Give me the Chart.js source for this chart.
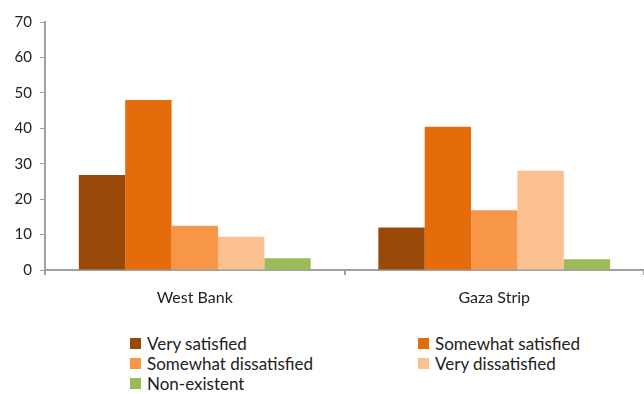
<!DOCTYPE html>
<html>
<head>
<meta charset="utf-8">
<script src="https://cdn.jsdelivr.net/npm/chart.js@4"></script>
<style>
  body { margin: 0; background: #fff; font-family: Lato, "Open Sans", sans-serif; }
  #wrap { position: relative; width: 644px; height: 394px; }
  #chartBox { position: absolute; left: 0; top: 0; width: 644px; height: 320px; }
  #legend { position: absolute; left: 130px; top: 333px; width: 510px; display: grid;
            grid-template-columns: 288px 210px; font-size: 17px; color: #222; }
  .item { display: flex; align-items: center; height: 20px; }
  .sw { width: 11px; height: 11px; margin-right: 6px; }
</style>
</head>
<body>
<div id="wrap">
  <div id="chartBox"><canvas id="chart"></canvas></div>
  <div id="legend"></div>
</div>
<script>
const regions = ["West Bank", "Gaza Strip"];
const seriesNames = ["Very satisfied", "Somewhat satisfied", "Somewhat dissatisfied", "Very dissatisfied", "Non-existent"];
const verySatisfied = [26.8, 12.0];
const somewhatSatisfied = [48.0, 40.4];
const somewhatDissatisfied = [12.5, 16.9];
const veryDissatisfied = [9.4, 28.0];
const nonExistent = [3.3, 3.0];
const colors = ["#984807", "#E46C0A", "#F79646", "#FAC090", "#9BBB59"];

const allValues = [verySatisfied, somewhatSatisfied, somewhatDissatisfied, veryDissatisfied, nonExistent];

const datasets = allValues.map((vals, i) => ({
  label: seriesNames[i],
  data: vals,
  backgroundColor: colors[i],
  borderWidth: 0,
  categoryPercentage: 0.774,
  barPercentage: 1
}));

const ctx = document.getElementById("chart").getContext("2d");
new Chart(ctx, {
  type: "bar",
  data: { labels: regions, datasets },
  options: {
    responsive: true,
    maintainAspectRatio: false,
    animation: false,
    layout: { padding: { top: 22, right: 0, left: 0, bottom: 0 } },
    plugins: { legend: { display: false }, tooltip: { enabled: false } },
    scales: {
      x: {
        offset: true,
        grid: { display: true, drawOnChartArea: false, offset: true, color: "#a0a0a0", tickLength: 5, lineWidth: 2 },
        border: { color: "#a0a0a0", width: 2 },
        ticks: { color: "#222", font: { family: "Lato", size: 16 }, padding: 13 },
        afterFit: (scale) => { scale.height = 50; }
      },
      y: {
        min: 0,
        max: 70,
        ticks: { stepSize: 10, color: "#222", font: { family: "Lato", size: 15 }, padding: 8 },
        grid: { display: true, drawOnChartArea: false, color: "#a0a0a0", tickLength: 5, lineWidth: 1 },
        border: { color: "#a0a0a0", width: 2 },
        afterFit: (scale) => { scale.width = 45; }
      }
    }
  }
});

const legend = document.getElementById("legend");
seriesNames.forEach((name, i) => {
  const item = document.createElement("div");
  item.className = "item";
  item.innerHTML = '<span class="sw" style="background:' + colors[i] + '"></span><span>' + name + '</span>';
  legend.appendChild(item);
});
</script>
</body>
</html>
